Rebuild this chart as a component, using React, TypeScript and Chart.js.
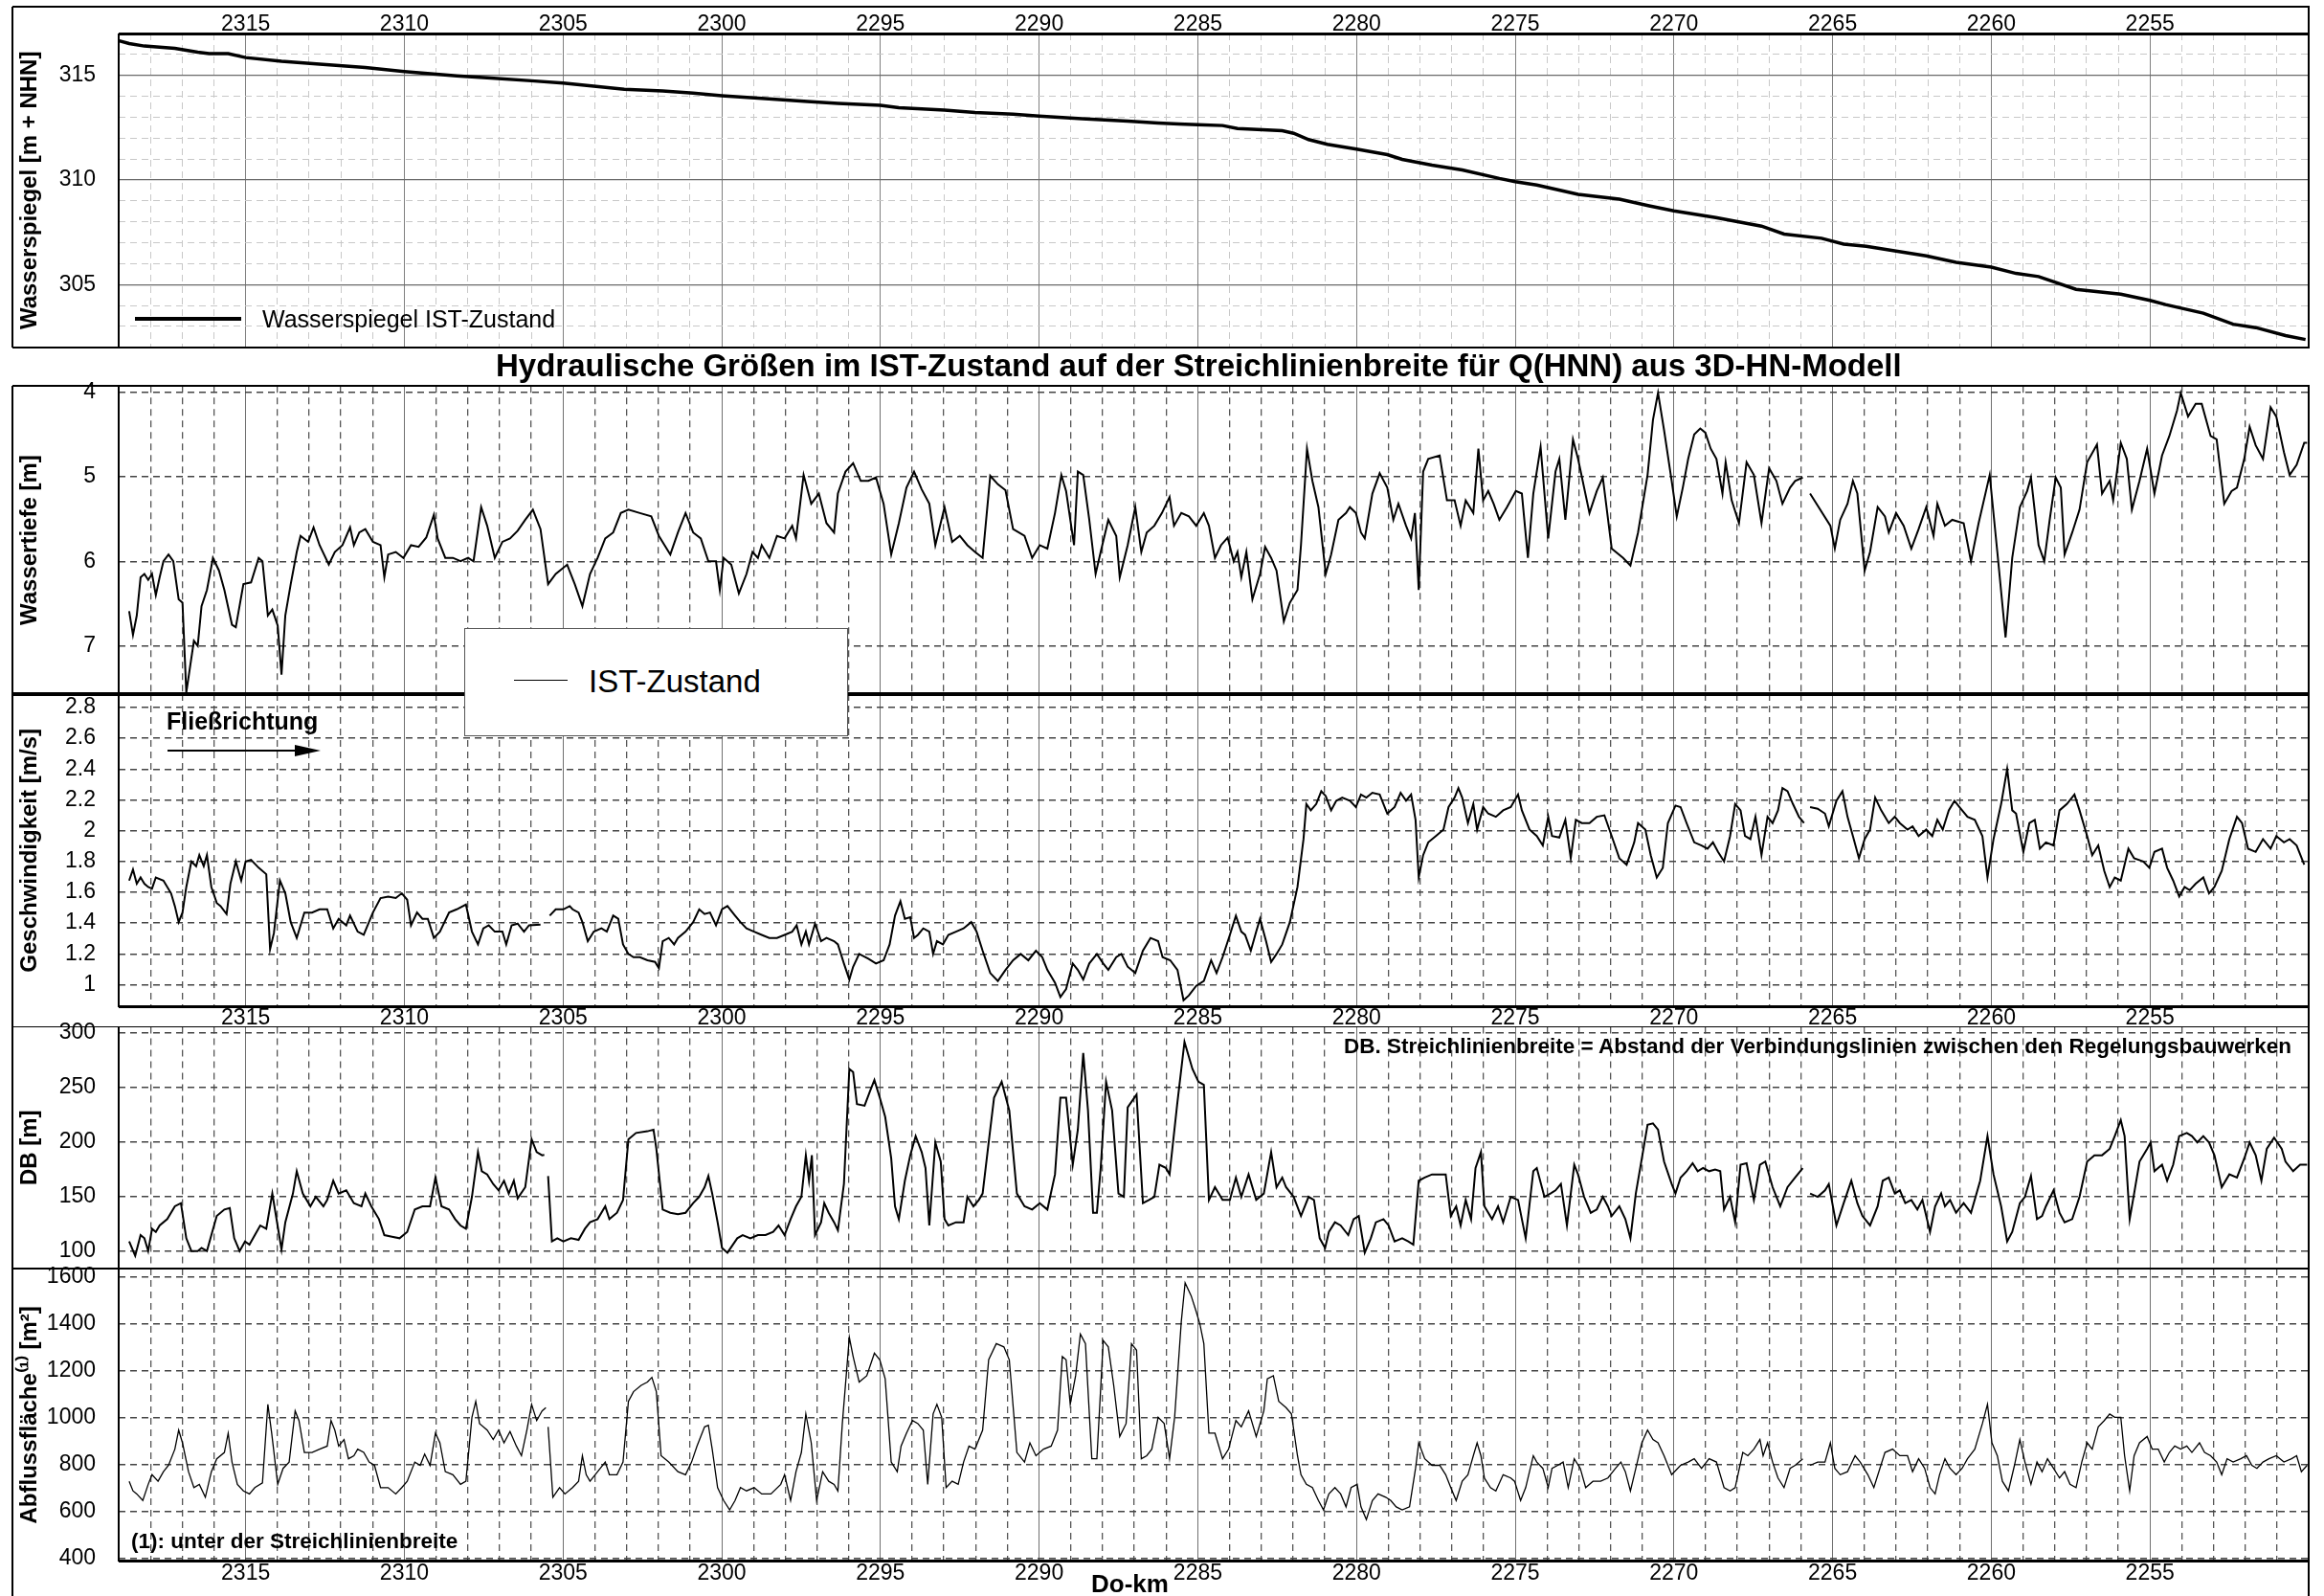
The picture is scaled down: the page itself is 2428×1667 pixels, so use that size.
import React, { useEffect, useRef } from 'react';
import { Chart, registerables } from 'chart.js';

Chart.register(...registerables);

const FONT = "'Liberation Sans', Arial, Helvetica, sans-serif";

// ---------------- data ----------------
const KM_MIN = 2250;
const KM_MAX = 2319;
const kmLabels = [2315, 2310, 2305, 2300, 2295, 2290, 2285, 2280, 2275, 2270, 2265, 2260, 2255];

const wspTicks = [305, 310, 315];
const tiefeTicks = [4, 5, 6, 7];
const geschwTicks = [1, 1.2, 1.4, 1.6, 1.8, 2, 2.2, 2.4, 2.6, 2.8];
const dbTicks = [100, 150, 200, 250, 300];
const flaecheTicks = [400, 600, 800, 1000, 1200, 1400, 1600];

type Pt = [number, number | null];

const wasserspiegel: Pt[] = [
  [2319.03, 316.67], [2318.67, 316.52], [2318.19, 316.4], [2317.23, 316.29], [2316.51, 316.11], [2316.15, 316.04],
  [2315.55, 316.04], [2315.0, 315.85], [2313.87, 315.67], [2312.67, 315.53], [2311.23, 315.37], [2310.0, 315.18],
  [2308.35, 314.97], [2307.39, 314.88], [2306.0, 314.74], [2305.0, 314.63], [2304.03, 314.48], [2303.07, 314.33],
  [2301.86, 314.25], [2300.9, 314.15], [2300.0, 314.03], [2298.74, 313.9], [2297.3, 313.75], [2296.34, 313.66],
  [2295.0, 313.57], [2294.42, 313.45], [2292.98, 313.34], [2292.02, 313.22], [2290.82, 313.14], [2290.0, 313.05],
  [2288.65, 312.93], [2287.21, 312.81], [2286.25, 312.72], [2285.6, 312.68], [2285.0, 312.64], [2284.22, 312.6],
  [2283.75, 312.46], [2282.34, 312.35], [2281.98, 312.23], [2281.51, 311.93], [2280.92, 311.7], [2280.0, 311.47],
  [2279.03, 311.21], [2278.56, 310.98], [2277.62, 310.71], [2276.67, 310.48], [2275.5, 310.07], [2275.0, 309.92],
  [2274.32, 309.76], [2273.02, 309.31], [2271.72, 309.08], [2270.78, 308.76], [2270.0, 308.52], [2268.68, 308.2],
  [2267.24, 307.79], [2266.53, 307.41], [2265.35, 307.21], [2264.65, 306.93], [2263.94, 306.83], [2263.0, 306.6],
  [2262.05, 306.37], [2261.11, 306.06], [2260.0, 305.83], [2259.22, 305.53], [2258.51, 305.38], [2257.33, 304.77],
  [2255.92, 304.54], [2255.0, 304.24], [2254.51, 304.04], [2253.32, 303.63], [2252.38, 303.1], [2251.67, 302.94],
  [2250.73, 302.56], [2250.1, 302.37],
];

const wassertiefe: Pt[] = [
  [2318.67, 6.59], [2318.55, 6.87], [2318.43, 6.64], [2318.31, 6.19], [2318.19, 6.15], [2318.07, 6.22], [2317.95, 6.15],
  [2317.83, 6.4], [2317.71, 6.19], [2317.59, 6.0], [2317.43, 5.92], [2317.28, 6.0], [2317.11, 6.45], [2316.99, 6.49],
  [2316.87, 7.55], [2316.63, 6.94], [2316.51, 7.0], [2316.39, 6.53], [2316.22, 6.34], [2316.03, 5.96], [2315.84, 6.11],
  [2315.67, 6.34], [2315.43, 6.75], [2315.31, 6.78], [2315.07, 6.27], [2314.83, 6.25], [2314.59, 5.96], [2314.47, 6.0],
  [2314.3, 6.64], [2314.16, 6.57], [2313.99, 6.76], [2313.87, 7.34], [2313.75, 6.64], [2313.58, 6.27], [2313.39, 5.89],
  [2313.27, 5.7], [2313.03, 5.77], [2312.86, 5.6], [2312.67, 5.81], [2312.38, 6.04], [2312.19, 5.89], [2311.95, 5.81],
  [2311.71, 5.6], [2311.59, 5.81], [2311.42, 5.66], [2311.23, 5.62], [2310.99, 5.77], [2310.75, 5.81], [2310.63, 6.19],
  [2310.51, 5.92], [2310.27, 5.89], [2310.03, 5.96], [2309.79, 5.81], [2309.55, 5.83], [2309.31, 5.72], [2309.07, 5.45],
  [2308.95, 5.73], [2308.71, 5.96], [2308.47, 5.96], [2308.23, 6.0], [2307.99, 5.96], [2307.82, 6.0], [2307.58, 5.36],
  [2307.39, 5.58], [2307.15, 5.96], [2306.91, 5.77], [2306.67, 5.73], [2306.43, 5.64], [2306.19, 5.51], [2305.95, 5.39],
  [2305.71, 5.62], [2305.47, 6.27], [2305.23, 6.15], [2304.87, 6.04], [2304.63, 6.27], [2304.39, 6.53], [2304.15, 6.15],
  [2303.91, 5.96], [2303.67, 5.73], [2303.42, 5.66], [2303.18, 5.43], [2302.94, 5.39], [2302.58, 5.43], [2302.22, 5.47],
  [2301.98, 5.7], [2301.62, 5.92], [2301.38, 5.66], [2301.14, 5.43], [2300.9, 5.66], [2300.66, 5.73], [2300.42, 6.0],
  [2300.18, 6.0], [2300.06, 6.34], [2299.94, 5.96], [2299.7, 6.04], [2299.46, 6.38], [2299.22, 6.15], [2299.03, 5.89],
  [2298.86, 5.96], [2298.74, 5.81], [2298.5, 5.96], [2298.26, 5.7], [2298.02, 5.73], [2297.78, 5.58], [2297.66, 5.73],
  [2297.42, 4.98], [2297.18, 5.32], [2296.94, 5.2], [2296.7, 5.55], [2296.46, 5.66], [2296.34, 5.2], [2296.1, 4.94],
  [2295.86, 4.84], [2295.62, 5.05], [2295.38, 5.05], [2295.14, 5.01], [2294.9, 5.32], [2294.66, 5.92], [2294.42, 5.55],
  [2294.18, 5.13], [2293.94, 4.94], [2293.7, 5.15], [2293.46, 5.32], [2293.27, 5.81], [2292.98, 5.36], [2292.74, 5.77],
  [2292.5, 5.7], [2292.26, 5.81], [2292.02, 5.89], [2291.78, 5.96], [2291.54, 4.99], [2291.3, 5.09], [2291.06, 5.16],
  [2290.82, 5.62], [2290.46, 5.7], [2290.22, 5.96], [2289.98, 5.81], [2289.74, 5.85], [2289.5, 5.43], [2289.3, 4.98],
  [2289.15, 5.17], [2288.9, 5.81], [2288.78, 4.94], [2288.61, 4.98], [2288.42, 5.51], [2288.22, 6.15], [2288.06, 5.89],
  [2287.82, 5.51], [2287.57, 5.7], [2287.46, 6.19], [2287.21, 5.81], [2286.97, 5.36], [2286.78, 5.89], [2286.61, 5.66],
  [2286.37, 5.58], [2286.13, 5.43], [2285.89, 5.24], [2285.75, 5.58], [2285.52, 5.43], [2285.28, 5.47], [2285.05, 5.58],
  [2284.81, 5.43], [2284.65, 5.58], [2284.46, 5.96], [2284.27, 5.81], [2284.06, 5.72], [2283.87, 6.0], [2283.75, 5.89],
  [2283.63, 6.19], [2283.47, 5.89], [2283.28, 6.45], [2283.04, 6.15], [2282.88, 5.83], [2282.69, 5.96], [2282.52, 6.11],
  [2282.29, 6.71], [2282.1, 6.49], [2281.86, 6.34], [2281.75, 5.81], [2281.56, 4.67], [2281.39, 5.05], [2281.2, 5.36],
  [2280.97, 6.15], [2280.8, 5.92], [2280.57, 5.51], [2280.33, 5.43], [2280.21, 5.36], [2280.02, 5.43], [2279.86, 5.66],
  [2279.74, 5.73], [2279.5, 5.2], [2279.27, 4.96], [2279.03, 5.13], [2278.84, 5.51], [2278.68, 5.32], [2278.44, 5.58],
  [2278.28, 5.73], [2278.16, 5.43], [2278.04, 6.34], [2277.9, 4.94], [2277.74, 4.79], [2277.38, 4.75], [2277.15, 5.28],
  [2276.91, 5.28], [2276.72, 5.58], [2276.56, 5.28], [2276.32, 5.43], [2276.16, 4.67], [2276.01, 5.28], [2275.85, 5.17],
  [2275.68, 5.32], [2275.5, 5.51], [2275.26, 5.36], [2274.98, 5.17], [2274.79, 5.2], [2274.6, 5.96], [2274.43, 5.2],
  [2274.2, 4.65], [2273.96, 5.73], [2273.73, 4.94], [2273.61, 4.79], [2273.42, 5.51], [2273.18, 4.56], [2273.02, 4.79],
  [2272.66, 5.43], [2272.43, 5.17], [2272.24, 5.01], [2271.96, 5.85], [2271.6, 5.96], [2271.37, 6.05], [2271.13, 5.66],
  [2270.83, 4.98], [2270.66, 4.33], [2270.5, 4.01], [2270.31, 4.45], [2270.07, 5.05], [2269.91, 5.47], [2269.72, 5.13],
  [2269.55, 4.79], [2269.36, 4.5], [2269.17, 4.43], [2269.01, 4.48], [2268.84, 4.67], [2268.66, 4.79], [2268.47, 5.2],
  [2268.37, 4.83], [2268.18, 5.28], [2267.95, 5.55], [2267.71, 4.83], [2267.48, 4.98], [2267.24, 5.55], [2267.0, 4.9],
  [2266.77, 5.05], [2266.58, 5.32], [2266.34, 5.13], [2266.18, 5.05], [2265.94, 5.01], [2265.8, null], [2265.71, 5.2],
  [2265.07, 5.58], [2264.93, 5.85], [2264.76, 5.51], [2264.53, 5.32], [2264.36, 5.05], [2264.22, 5.2], [2263.99, 6.11],
  [2263.82, 5.89], [2263.58, 5.36], [2263.35, 5.47], [2263.23, 5.66], [2263.0, 5.43], [2262.76, 5.58], [2262.52, 5.85],
  [2262.29, 5.62], [2262.05, 5.36], [2261.82, 5.7], [2261.7, 5.32], [2261.46, 5.58], [2261.23, 5.51], [2260.87, 5.55],
  [2260.64, 6.0], [2260.4, 5.55], [2260.05, 4.98], [2259.81, 5.89], [2259.55, 6.9], [2259.34, 5.96], [2259.1, 5.36],
  [2258.87, 5.17], [2258.75, 5.01], [2258.51, 5.81], [2258.33, 6.0], [2258.16, 5.51], [2257.97, 5.01], [2257.81, 5.13],
  [2257.69, 5.92], [2257.45, 5.66], [2257.22, 5.39], [2256.98, 4.83], [2256.67, 4.62], [2256.51, 5.2], [2256.27, 5.05],
  [2256.16, 5.28], [2255.92, 4.6], [2255.73, 4.79], [2255.57, 5.39], [2255.33, 5.05], [2255.09, 4.67], [2254.86, 5.2],
  [2254.62, 4.75], [2254.39, 4.52], [2254.15, 4.22], [2254.03, 4.01], [2253.8, 4.29], [2253.56, 4.14], [2253.37, 4.14],
  [2253.09, 4.52], [2252.9, 4.56], [2252.66, 5.32], [2252.43, 5.17], [2252.26, 5.13], [2252.03, 4.79], [2251.86, 4.41],
  [2251.67, 4.63], [2251.44, 4.79], [2251.2, 4.18], [2251.02, 4.29], [2250.78, 4.71], [2250.6, 4.98], [2250.38, 4.86],
  [2250.14, 4.6], [2250.05, 4.6],
];

const geschwindigkeit: Pt[] = [
  [2318.67, 1.676], [2318.55, 1.748], [2318.43, 1.655], [2318.31, 1.696], [2318.19, 1.655], [2318.07, 1.634],
  [2317.95, 1.624], [2317.83, 1.696], [2317.59, 1.676], [2317.35, 1.593], [2317.23, 1.51], [2317.11, 1.406],
  [2316.99, 1.468], [2316.87, 1.634], [2316.71, 1.8], [2316.56, 1.769], [2316.46, 1.841], [2316.32, 1.769],
  [2316.22, 1.841], [2316.08, 1.634], [2315.91, 1.53], [2315.79, 1.51], [2315.6, 1.458], [2315.48, 1.655],
  [2315.31, 1.8], [2315.14, 1.676], [2315.0, 1.8], [2314.83, 1.81], [2314.59, 1.759], [2314.35, 1.717],
  [2314.23, 1.23], [2314.11, 1.334], [2313.92, 1.676], [2313.75, 1.593], [2313.58, 1.406], [2313.39, 1.303],
  [2313.15, 1.468], [2312.91, 1.468], [2312.67, 1.489], [2312.43, 1.489], [2312.24, 1.365], [2312.07, 1.427],
  [2311.83, 1.385], [2311.71, 1.448], [2311.47, 1.344], [2311.28, 1.323], [2310.99, 1.468], [2310.75, 1.562],
  [2310.51, 1.572], [2310.27, 1.562], [2310.08, 1.593], [2309.91, 1.551], [2309.79, 1.385], [2309.6, 1.468],
  [2309.43, 1.427], [2309.26, 1.427], [2309.07, 1.303], [2308.88, 1.344], [2308.59, 1.468], [2308.35, 1.489],
  [2308.06, 1.52], [2307.87, 1.344], [2307.68, 1.261], [2307.51, 1.365], [2307.34, 1.385], [2307.15, 1.344],
  [2306.91, 1.344], [2306.79, 1.261], [2306.62, 1.385], [2306.43, 1.396], [2306.23, 1.344], [2306.07, 1.385],
  [2305.71, 1.39], [2305.55, null], [2305.42, 1.448], [2305.23, 1.489], [2304.99, 1.489], [2304.79, 1.51],
  [2304.7, 1.489], [2304.51, 1.468], [2304.39, 1.406], [2304.22, 1.282], [2304.03, 1.344], [2303.79, 1.365],
  [2303.62, 1.344], [2303.42, 1.448], [2303.26, 1.427], [2303.11, 1.261], [2302.94, 1.199], [2302.78, 1.178],
  [2302.58, 1.178], [2302.34, 1.158], [2302.1, 1.147], [2301.98, 1.106], [2301.86, 1.282], [2301.67, 1.303],
  [2301.5, 1.261], [2301.38, 1.303], [2301.14, 1.344], [2300.9, 1.406], [2300.71, 1.489], [2300.54, 1.458],
  [2300.37, 1.468], [2300.18, 1.385], [2299.99, 1.489], [2299.82, 1.51], [2299.58, 1.448], [2299.41, 1.406],
  [2299.22, 1.365], [2298.98, 1.344], [2298.74, 1.323], [2298.5, 1.303], [2298.26, 1.303], [2298.02, 1.323],
  [2297.78, 1.344], [2297.64, 1.385], [2297.49, 1.261], [2297.35, 1.344], [2297.25, 1.261], [2297.06, 1.396],
  [2296.87, 1.282], [2296.7, 1.303], [2296.46, 1.282], [2296.34, 1.261], [2296.15, 1.137], [2295.98, 1.033],
  [2295.86, 1.116], [2295.67, 1.199], [2295.38, 1.168], [2295.14, 1.137], [2294.9, 1.158], [2294.71, 1.261],
  [2294.54, 1.448], [2294.37, 1.541], [2294.23, 1.427], [2294.06, 1.437], [2293.94, 1.303], [2293.82, 1.323],
  [2293.65, 1.365], [2293.46, 1.344], [2293.34, 1.199], [2293.22, 1.282], [2293.03, 1.261], [2292.86, 1.323],
  [2292.62, 1.344], [2292.38, 1.365], [2292.14, 1.406], [2291.97, 1.344], [2291.78, 1.22], [2291.54, 1.075],
  [2291.3, 1.023], [2291.06, 1.095], [2290.82, 1.158], [2290.58, 1.199], [2290.34, 1.158], [2290.1, 1.22],
  [2289.9, 1.178], [2289.74, 1.095], [2289.5, 1.012], [2289.33, 0.919], [2289.15, 0.971], [2288.94, 1.137],
  [2288.78, 1.095], [2288.61, 1.033], [2288.42, 1.137], [2288.18, 1.199], [2287.98, 1.137], [2287.82, 1.095],
  [2287.57, 1.178], [2287.41, 1.199], [2287.21, 1.116], [2286.97, 1.075], [2286.73, 1.22], [2286.49, 1.303],
  [2286.25, 1.282], [2286.11, 1.178], [2285.87, 1.158], [2285.64, 1.095], [2285.45, 0.898], [2285.28, 0.93],
  [2285.05, 0.992], [2284.81, 1.023], [2284.58, 1.158], [2284.41, 1.075], [2284.22, 1.178], [2283.99, 1.323],
  [2283.8, 1.448], [2283.63, 1.344], [2283.51, 1.323], [2283.33, 1.22], [2283.16, 1.344], [2283.04, 1.427],
  [2282.85, 1.282], [2282.69, 1.147], [2282.52, 1.199], [2282.34, 1.261], [2282.1, 1.406], [2281.86, 1.634],
  [2281.67, 1.945], [2281.58, 2.173], [2281.44, 2.132], [2281.27, 2.173], [2281.11, 2.256], [2280.97, 2.225],
  [2280.8, 2.132], [2280.64, 2.194], [2280.45, 2.215], [2280.21, 2.194], [2280.02, 2.153], [2279.86, 2.235],
  [2279.69, 2.215], [2279.5, 2.246], [2279.27, 2.235], [2279.03, 2.111], [2278.8, 2.153], [2278.61, 2.246],
  [2278.44, 2.194], [2278.28, 2.235], [2278.14, 2.07], [2278.04, 1.696], [2277.9, 1.841], [2277.74, 1.924],
  [2277.5, 1.965], [2277.26, 2.007], [2277.1, 2.153], [2276.91, 2.215], [2276.79, 2.277], [2276.67, 2.215],
  [2276.49, 2.049], [2276.32, 2.173], [2276.2, 2.007], [2276.01, 2.153], [2275.85, 2.111], [2275.61, 2.09],
  [2275.38, 2.132], [2275.14, 2.153], [2274.91, 2.235], [2274.79, 2.132], [2274.55, 2.007], [2274.32, 1.965],
  [2274.13, 1.904], [2273.96, 2.09], [2273.84, 1.965], [2273.61, 1.955], [2273.42, 2.07], [2273.25, 1.821],
  [2273.09, 2.07], [2272.9, 2.049], [2272.66, 2.049], [2272.43, 2.09], [2272.19, 2.1], [2271.96, 1.965],
  [2271.72, 1.821], [2271.49, 1.779], [2271.25, 1.924], [2271.13, 2.049], [2270.9, 2.007], [2270.73, 1.841],
  [2270.54, 1.696], [2270.35, 1.758], [2270.19, 2.049], [2269.95, 2.163], [2269.79, 2.153], [2269.6, 2.049],
  [2269.36, 1.924], [2269.13, 1.904], [2268.94, 1.883], [2268.77, 1.924], [2268.61, 1.862], [2268.42, 1.8],
  [2268.23, 1.965], [2268.07, 2.173], [2267.9, 2.132], [2267.76, 1.965], [2267.59, 1.945], [2267.43, 2.09],
  [2267.24, 1.841], [2267.05, 2.09], [2266.89, 2.049], [2266.72, 2.132], [2266.58, 2.277], [2266.42, 2.256],
  [2266.25, 2.173], [2266.06, 2.09], [2265.9, 2.049], [2265.8, null], [2265.71, 2.153], [2265.47, 2.142],
  [2265.24, 2.111], [2265.12, 2.028], [2264.88, 2.194], [2264.69, 2.256], [2264.53, 2.09], [2264.36, 1.965],
  [2264.17, 1.821], [2263.99, 1.945], [2263.82, 2.007], [2263.66, 2.215], [2263.47, 2.132], [2263.23, 2.049],
  [2263.04, 2.09], [2262.88, 2.049], [2262.64, 2.007], [2262.48, 2.028], [2262.29, 1.965], [2262.05, 2.007],
  [2261.86, 1.965], [2261.7, 2.07], [2261.53, 2.007], [2261.34, 2.132], [2261.16, 2.194], [2261.0, 2.153],
  [2260.75, 2.09], [2260.52, 2.07], [2260.28, 1.965], [2260.12, 1.696], [2259.93, 1.945], [2259.69, 2.173],
  [2259.5, 2.401], [2259.34, 2.132], [2259.22, 2.111], [2258.99, 1.862], [2258.8, 2.049], [2258.63, 2.07],
  [2258.47, 1.883], [2258.28, 1.924], [2258.04, 1.904], [2257.85, 2.132], [2257.62, 2.173], [2257.38, 2.235],
  [2257.22, 2.132], [2256.98, 1.965], [2256.82, 1.841], [2256.63, 1.904], [2256.44, 1.738], [2256.27, 1.634],
  [2256.11, 1.696], [2255.92, 1.676], [2255.68, 1.883], [2255.5, 1.821], [2255.21, 1.8], [2255.02, 1.759],
  [2254.86, 1.862], [2254.62, 1.883], [2254.46, 1.759], [2254.27, 1.676], [2254.08, 1.572], [2253.91, 1.634],
  [2253.75, 1.613], [2253.56, 1.655], [2253.32, 1.696], [2253.14, 1.593], [2252.97, 1.634], [2252.74, 1.738],
  [2252.5, 1.945], [2252.26, 2.09], [2252.1, 2.049], [2251.91, 1.883], [2251.67, 1.862], [2251.44, 1.945],
  [2251.2, 1.883], [2251.02, 1.965], [2250.78, 1.924], [2250.6, 1.945], [2250.38, 1.904], [2250.14, 1.779],
];

const streichlinienbreite: Pt[] = [
  [2318.67, 108.8], [2318.48, 95.6], [2318.31, 114.6], [2318.19, 111.7], [2318.07, 100], [2317.95, 120.4],
  [2317.83, 117.5], [2317.71, 123.4], [2317.47, 129.2], [2317.23, 140.9], [2317.04, 143.8], [2316.87, 111.7],
  [2316.71, 100], [2316.51, 100], [2316.39, 102.9], [2316.22, 100], [2316.08, 114.6], [2315.91, 132.1],
  [2315.67, 138], [2315.5, 139.4], [2315.36, 111.7], [2315.19, 100], [2315.02, 108.8], [2314.88, 105.8],
  [2314.71, 114.6], [2314.54, 123.4], [2314.35, 120.4], [2314.16, 152.6], [2314.06, 135], [2313.87, 101.5],
  [2313.75, 126.3], [2313.51, 152.6], [2313.39, 173], [2313.2, 152.6], [2312.96, 140.9], [2312.79, 149.6],
  [2312.55, 140.9], [2312.43, 146.7], [2312.24, 164.3], [2312.07, 152.6], [2311.83, 155.5], [2311.59, 143.8],
  [2311.35, 140.9], [2311.23, 152.6], [2311.04, 140.9], [2310.8, 129.2], [2310.63, 114.6], [2310.39, 113.1],
  [2310.15, 111.7], [2309.91, 117.5], [2309.67, 138], [2309.43, 140.9], [2309.19, 140.9], [2309.02, 167.2],
  [2308.83, 140.9], [2308.59, 138], [2308.4, 129.2], [2308.23, 123.4], [2308.06, 120.4], [2307.87, 149.6],
  [2307.68, 190.5], [2307.56, 173], [2307.39, 170.1], [2307.2, 161.3], [2307.03, 155.5], [2306.86, 164.3],
  [2306.71, 152.6], [2306.55, 164.3], [2306.43, 148.2], [2306.19, 158.4], [2305.99, 202.2], [2305.83, 190.5],
  [2305.66, 187.6], [2305.59, 188], [2305.55, null], [2305.47, 168.6], [2305.35, 108.8], [2305.18, 111.7],
  [2304.99, 108.8], [2304.75, 111.7], [2304.51, 110.2], [2304.31, 120.4], [2304.15, 126.3], [2303.91, 129.2],
  [2303.67, 140.9], [2303.54, 129.2], [2303.3, 135], [2303.11, 146.7], [2302.94, 202.2], [2302.7, 208],
  [2302.34, 209.5], [2302.15, 211], [2302.06, 193.5], [2301.86, 138], [2301.62, 135], [2301.38, 133.6],
  [2301.14, 135], [2300.9, 143.8], [2300.71, 149.6], [2300.54, 158.4], [2300.42, 168.6], [2300.3, 152.6],
  [2300.13, 126.3], [2299.99, 102.9], [2299.82, 98.5], [2299.65, 105.8], [2299.51, 111.7], [2299.34, 114.6],
  [2299.1, 111.7], [2298.86, 114.6], [2298.62, 114.6], [2298.38, 117.5], [2298.21, 123.4], [2298.02, 114.6],
  [2297.83, 129.2], [2297.66, 140.9], [2297.49, 149.6], [2297.35, 187.6], [2297.25, 164.3], [2297.16, 187.6],
  [2297.06, 114.6], [2296.87, 126.3], [2296.77, 143.8], [2296.63, 135], [2296.46, 126.3], [2296.34, 119],
  [2296.15, 161.3], [2295.98, 266.5], [2295.86, 263.6], [2295.74, 234.3], [2295.5, 232.9], [2295.33, 246],
  [2295.19, 256.3], [2295.02, 240.2], [2294.85, 222.7], [2294.66, 184.7], [2294.54, 140.9], [2294.42, 129.2],
  [2294.23, 164.3], [2294.06, 187.6], [2293.89, 205.1], [2293.7, 190.5], [2293.58, 175.9], [2293.46, 123.4],
  [2293.27, 199.3], [2293.1, 181.8], [2292.98, 129.2], [2292.86, 123.4], [2292.62, 126.3], [2292.38, 126.3],
  [2292.26, 149.6], [2292.07, 140.9], [2291.9, 146.7], [2291.78, 152.6], [2291.59, 199.3], [2291.42, 240.2],
  [2291.18, 254.8], [2290.94, 228.5], [2290.7, 152.6], [2290.46, 140.9], [2290.22, 138], [2289.98, 143.8],
  [2289.74, 138], [2289.5, 170.1], [2289.33, 240.2], [2289.15, 240.2], [2288.94, 178.9], [2288.78, 210.9],
  [2288.61, 281.1], [2288.46, 228.5], [2288.3, 135], [2288.18, 135], [2288.06, 175.9], [2287.89, 254.8],
  [2287.7, 228.5], [2287.5, 152.6], [2287.33, 149.6], [2287.21, 231.4], [2286.93, 243.1], [2286.73, 143.8],
  [2286.54, 146.7], [2286.37, 149.6], [2286.21, 178.9], [2286.01, 176], [2285.89, 170.1], [2285.65, 234.3],
  [2285.42, 291.3], [2285.17, 266.5], [2284.98, 254.8], [2284.81, 251.9], [2284.65, 146.7], [2284.46, 158.4],
  [2284.22, 146.7], [2283.99, 146.7], [2283.8, 167.2], [2283.63, 149.6], [2283.4, 170.1], [2283.16, 146.7],
  [2282.92, 152.6], [2282.69, 190.5], [2282.52, 158.4], [2282.34, 167.2], [2282.22, 158.4], [2281.98, 149.6],
  [2281.75, 132.1], [2281.51, 149.6], [2281.34, 146.7], [2281.16, 111.7], [2280.99, 102.9], [2280.87, 117.5],
  [2280.68, 126.3], [2280.5, 123.4], [2280.26, 114.6], [2280.09, 129.2], [2279.93, 132.1], [2279.74, 98.5],
  [2279.55, 111.7], [2279.39, 126.3], [2279.15, 129.2], [2278.99, 123.4], [2278.8, 108.8], [2278.56, 111.7],
  [2278.37, 108.8], [2278.21, 105.8], [2278.04, 164.3], [2277.85, 167.2], [2277.62, 170.1], [2277.38, 170.1],
  [2277.19, 170.1], [2277.03, 132.1], [2276.86, 140.9], [2276.72, 123.4], [2276.56, 146.7], [2276.39, 129.2],
  [2276.25, 175.9], [2276.08, 190.5], [2275.97, 140.9], [2275.73, 129.2], [2275.54, 140.9], [2275.38, 126.3],
  [2275.14, 149.6], [2274.91, 146.7], [2274.67, 111.7], [2274.43, 173], [2274.32, 175.9], [2274.08, 149.6],
  [2273.89, 152.6], [2273.73, 155.5], [2273.56, 161.3], [2273.37, 123.4], [2273.14, 178.9], [2273.02, 170.1],
  [2272.83, 149.6], [2272.62, 135], [2272.43, 138], [2272.24, 149.6], [2272.08, 140.9], [2271.96, 132.1],
  [2271.72, 140.9], [2271.53, 129.2], [2271.37, 111.7], [2271.2, 152.6], [2271.01, 184.7], [2270.83, 215.4],
  [2270.66, 216.8], [2270.5, 211], [2270.31, 181.8], [2270.07, 161.3], [2269.95, 152.6], [2269.79, 167.2],
  [2269.6, 173], [2269.41, 180.3], [2269.25, 173], [2269.08, 175.9], [2268.89, 173], [2268.7, 174.5],
  [2268.54, 173], [2268.42, 138], [2268.23, 149.6], [2268.07, 126.3], [2267.9, 178.9], [2267.71, 180.3],
  [2267.48, 146.7], [2267.29, 178.9], [2267.12, 181.8], [2266.89, 158.4], [2266.65, 140.9], [2266.42, 158.4],
  [2266.18, 167.2], [2265.94, 175.9], [2265.8, null], [2265.71, 152.6], [2265.47, 149.6], [2265.24, 155.5],
  [2265.12, 161.3], [2264.88, 123.4], [2264.65, 143.8], [2264.41, 164.3], [2264.22, 143.8], [2264.06, 132.1],
  [2263.82, 123.4], [2263.58, 140.9], [2263.42, 164.3], [2263.23, 167.2], [2263.04, 152.6], [2262.88, 155.5],
  [2262.71, 143.8], [2262.52, 146.7], [2262.33, 138], [2262.17, 146.7], [2261.93, 117.5], [2261.77, 140.9],
  [2261.58, 152.6], [2261.46, 140.9], [2261.3, 146.7], [2261.11, 135], [2260.87, 143.8], [2260.64, 135],
  [2260.35, 164.3], [2260.12, 205.1], [2259.93, 170.1], [2259.69, 140.9], [2259.5, 108.8], [2259.34, 117.5],
  [2259.1, 143.8], [2258.94, 149.6], [2258.75, 168.6], [2258.56, 129.2], [2258.4, 132.1], [2258.28, 140.9],
  [2258.04, 155.5], [2257.85, 135], [2257.69, 126.3], [2257.45, 129.2], [2257.22, 149.6], [2256.98, 181.8],
  [2256.75, 187.6], [2256.51, 187.6], [2256.27, 193.5], [2256.11, 205.1], [2255.92, 219.7], [2255.8, 205.1],
  [2255.64, 129.2], [2255.5, 152.6], [2255.33, 181.8], [2255.09, 193.5], [2254.98, 199.3], [2254.86, 173],
  [2254.62, 178.9], [2254.46, 164.3], [2254.27, 178.9], [2254.08, 205.1], [2253.84, 208], [2253.68, 205.1],
  [2253.51, 199.3], [2253.32, 205.1], [2253.14, 199.3], [2252.97, 187.6], [2252.74, 158.4], [2252.5, 170.1],
  [2252.26, 167.2], [2252.03, 184.7], [2251.86, 199.3], [2251.67, 187.6], [2251.49, 164.3], [2251.32, 193.5],
  [2251.09, 203.7], [2250.85, 193.5], [2250.73, 181.8], [2250.49, 173], [2250.27, 178.9], [2250.05, 178.9],
];

const abflussflaeche: Pt[] = [
  [2318.67, 727], [2318.55, 686], [2318.43, 673], [2318.24, 645], [2318.07, 714], [2317.95, 755], [2317.76, 727],
  [2317.59, 768], [2317.43, 795], [2317.23, 864], [2317.11, 945], [2316.99, 891], [2316.8, 768], [2316.63, 700],
  [2316.46, 714], [2316.27, 659], [2316.08, 768], [2315.91, 823], [2315.67, 850], [2315.55, 932], [2315.43, 809],
  [2315.26, 714], [2315.07, 686], [2314.88, 673], [2314.71, 700], [2314.47, 720], [2314.3, 1055], [2314.18, 932],
  [2313.99, 714], [2313.82, 782], [2313.63, 809], [2313.44, 1027], [2313.32, 986], [2313.15, 850], [2312.91, 850],
  [2312.67, 864], [2312.43, 877], [2312.31, 986], [2312.19, 945], [2312.07, 877], [2311.9, 905], [2311.76, 823],
  [2311.59, 836], [2311.47, 864], [2311.28, 850], [2311.11, 809], [2310.94, 795], [2310.75, 700], [2310.51, 700],
  [2310.27, 673], [2310.08, 700], [2309.91, 727], [2309.67, 809], [2309.5, 795], [2309.36, 843], [2309.19, 795],
  [2309.02, 932], [2308.88, 891], [2308.71, 768], [2308.47, 755], [2308.23, 714], [2308.06, 727], [2307.87, 1000],
  [2307.75, 1068], [2307.63, 973], [2307.39, 945], [2307.2, 905], [2307.03, 945], [2306.86, 891], [2306.67, 939],
  [2306.47, 877], [2306.31, 836], [2306.14, 945], [2305.99, 1055], [2305.83, 986], [2305.66, 1027], [2305.54, 1041],
  [2305.5, null], [2305.47, 959], [2305.32, 659], [2305.11, 700], [2304.94, 673], [2304.7, 700], [2304.51, 727],
  [2304.39, 836], [2304.27, 755], [2304.15, 727], [2303.91, 768], [2303.67, 809], [2303.54, 755], [2303.3, 755],
  [2303.11, 809], [2302.94, 1068], [2302.78, 1109], [2302.54, 1136], [2302.34, 1150], [2302.2, 1170], [2302.06, 1109],
  [2301.91, 836], [2301.67, 809], [2301.38, 768], [2301.14, 755], [2300.95, 809], [2300.78, 877], [2300.54, 959],
  [2300.42, 966], [2300.3, 864], [2300.13, 700], [2299.94, 645], [2299.75, 605], [2299.58, 645], [2299.41, 700],
  [2299.22, 686], [2298.98, 700], [2298.74, 673], [2298.45, 673], [2298.14, 714], [2298.02, 755], [2297.83, 645],
  [2297.66, 768], [2297.49, 850], [2297.35, 1014], [2297.18, 891], [2297.01, 645], [2296.82, 768], [2296.63, 727],
  [2296.46, 714], [2296.34, 686], [2296.2, 973], [2295.98, 1341], [2295.86, 1259], [2295.67, 1150], [2295.43, 1177],
  [2295.19, 1273], [2295.02, 1245], [2294.85, 1164], [2294.66, 809], [2294.47, 768], [2294.35, 877], [2294.18, 932],
  [2293.99, 986], [2293.82, 973], [2293.65, 945], [2293.51, 714], [2293.34, 1014], [2293.22, 1055], [2293.07, 1000],
  [2292.93, 700], [2292.74, 727], [2292.55, 714], [2292.38, 809], [2292.21, 877], [2292.02, 864], [2291.78, 945],
  [2291.59, 1245], [2291.35, 1314], [2291.11, 1300], [2290.94, 1245], [2290.7, 850], [2290.46, 809], [2290.29, 891],
  [2290.1, 836], [2289.86, 864], [2289.62, 877], [2289.42, 945], [2289.27, 1259], [2289.15, 1245], [2289.02, 1055],
  [2288.85, 1177], [2288.7, 1355], [2288.54, 1314], [2288.34, 823], [2288.18, 823], [2287.98, 1327], [2287.82, 1300],
  [2287.65, 1136], [2287.46, 918], [2287.26, 973], [2287.09, 1314], [2286.93, 1286], [2286.78, 823], [2286.61, 836],
  [2286.45, 864], [2286.25, 1000], [2286.06, 973], [2285.89, 823], [2285.73, 1000], [2285.52, 1409], [2285.4, 1573],
  [2285.21, 1518], [2285.05, 1450], [2284.93, 1395], [2284.81, 1314], [2284.65, 932], [2284.46, 932], [2284.22, 823],
  [2284.03, 864], [2283.8, 986], [2283.63, 959], [2283.4, 1027], [2283.16, 918], [2282.92, 1027], [2282.81, 1164],
  [2282.62, 1177], [2282.45, 1068], [2282.22, 1041], [2282.05, 1014], [2281.86, 836], [2281.75, 755], [2281.58, 714],
  [2281.39, 700], [2281.2, 645], [2281.04, 605], [2280.87, 673], [2280.68, 700], [2280.5, 673], [2280.33, 618],
  [2280.17, 700], [2279.98, 714], [2279.86, 618], [2279.69, 564], [2279.5, 645], [2279.32, 673], [2279.08, 659],
  [2278.92, 645], [2278.75, 618], [2278.56, 605], [2278.33, 618], [2278.14, 782], [2278.04, 891], [2277.85, 823],
  [2277.62, 795], [2277.38, 795], [2277.19, 755], [2277.03, 700], [2276.86, 645], [2276.67, 727], [2276.49, 755],
  [2276.32, 836], [2276.2, 891], [2276.08, 836], [2275.97, 741], [2275.78, 700], [2275.61, 686], [2275.38, 755],
  [2275.14, 741], [2275.02, 727], [2274.83, 645], [2274.67, 700], [2274.43, 836], [2274.32, 809], [2274.13, 782],
  [2273.96, 700], [2273.84, 782], [2273.66, 795], [2273.49, 809], [2273.33, 700], [2273.14, 823], [2272.95, 782],
  [2272.78, 700], [2272.55, 727], [2272.31, 727], [2272.08, 741], [2271.84, 782], [2271.67, 809], [2271.53, 768],
  [2271.37, 686], [2271.2, 782], [2271.01, 891], [2270.83, 945], [2270.66, 905], [2270.5, 891], [2270.31, 836],
  [2270.07, 755], [2269.79, 795], [2269.55, 809], [2269.36, 823], [2269.13, 782], [2268.89, 823], [2268.66, 809],
  [2268.42, 700], [2268.23, 686], [2268.07, 700], [2267.83, 850], [2267.67, 836], [2267.48, 864], [2267.29, 905],
  [2267.19, 836], [2267.05, 891], [2266.89, 809], [2266.72, 741], [2266.53, 700], [2266.34, 782], [2266.18, 795],
  [2265.94, 823], [2265.8, null], [2265.71, 795], [2265.47, 809], [2265.24, 809], [2265.07, 891], [2264.93, 782],
  [2264.76, 755], [2264.53, 768], [2264.29, 836], [2264.13, 809], [2263.89, 755], [2263.7, 700], [2263.51, 782],
  [2263.35, 850], [2263.11, 864], [2262.88, 836], [2262.64, 836], [2262.48, 768], [2262.29, 823], [2262.1, 782],
  [2261.93, 700], [2261.77, 673], [2261.63, 755], [2261.46, 823], [2261.3, 782], [2261.11, 755], [2260.92, 782],
  [2260.75, 823], [2260.52, 864], [2260.28, 973], [2260.12, 1055], [2259.98, 891], [2259.81, 836], [2259.65, 727],
  [2259.46, 686], [2259.27, 795], [2259.1, 905], [2258.94, 809], [2258.75, 714], [2258.56, 809], [2258.4, 768],
  [2258.23, 823], [2258.04, 782], [2257.85, 741], [2257.69, 768], [2257.52, 714], [2257.33, 700], [2257.15, 809],
  [2256.98, 891], [2256.82, 864], [2256.63, 959], [2256.44, 986], [2256.27, 1014], [2256.11, 1000], [2255.92, 1000],
  [2255.8, 836], [2255.64, 686], [2255.5, 836], [2255.33, 891], [2255.09, 918], [2254.93, 864], [2254.74, 864],
  [2254.55, 809], [2254.39, 850], [2254.22, 877], [2254.03, 864], [2253.84, 877], [2253.68, 850], [2253.44, 891],
  [2253.28, 850], [2253.09, 836], [2252.9, 809], [2252.74, 755], [2252.57, 823], [2252.38, 809], [2252.14, 823],
  [2251.96, 836], [2251.79, 795], [2251.63, 782], [2251.44, 809], [2251.25, 823], [2251.02, 836], [2250.78, 809],
  [2250.54, 823], [2250.38, 836], [2250.23, 768], [2250.05, 795],
];

// ---------------- layout / style ----------------
const W = 2428;
const H = 1667;
const PLOT_L = 124;
const PLOT_R = 2412;
const BOX_L = 13;

interface PanelSpec {
  key: string;
  canvasTop: number;
  canvasHeight: number;
  padTop: number;
  padBottom: number;
  xPos: 'top' | 'bottom';
  xHeight: number;
  showX: boolean;
  xPad: number;
  yMin: number;
  yMax: number;
  reverse: boolean;
  yTicks: number[];
  yMinor?: number[];
  yTitle: string;
  data: Pt[];
  lineWidth: number;
  topStyle: boolean;
}

const kmMinor: number[] = [];
for (let k = KM_MIN + 1; k < KM_MAX; k++) if (k % 5 !== 0) kmMinor.push(k);
const wspMinor: number[] = [];
for (let v = 303; v <= 316; v++) if (v % 5 !== 0) wspMinor.push(v);

function fixTicks(values: number[]) {
  return (s: any) => {
    s.ticks = values.map((v) => ({ value: v }));
  };
}

function buildConfig(p: PanelSpec): any {
  const scales: any = {
    x: {
      type: 'linear',
      min: KM_MIN,
      max: KM_MAX,
      reverse: true,
      position: p.xPos,
      afterBuildTicks: fixTicks(kmLabels),
      afterFit: (s: any) => {
        s.height = p.xHeight;
        s.paddingLeft = 0;
        s.paddingRight = 0;
      },
      ticks: {
        display: p.showX,
        autoSkip: false,
        maxRotation: 0,
        minRotation: 0,
        padding: p.xPad,
        color: '#000',
        font: { family: FONT, size: 23, lineHeight: 1 },
        callback: (v: any) => String(v),
      },
      grid: { color: p.topStyle ? '#808080' : '#707070', lineWidth: 1, drawTicks: false },
      border: { display: false },
    },
    xMinor: {
      type: 'linear',
      min: KM_MIN,
      max: KM_MAX,
      reverse: true,
      position: 'bottom',
      afterBuildTicks: fixTicks(kmMinor),
      afterFit: (s: any) => {
        s.height = 0;
        s.paddingLeft = 0;
        s.paddingRight = 0;
      },
      ticks: { display: false },
      grid: {
        color: p.topStyle ? '#c8c8c8' : '#555555',
        lineWidth: p.topStyle ? 1 : 1.3,
        drawTicks: false,
        borderDash: [7, 5],
      },
      border: { display: false, dash: [7, 5] },
    },
    y: {
      type: 'linear',
      min: p.yMin,
      max: p.yMax,
      reverse: p.reverse,
      position: 'left',
      afterBuildTicks: fixTicks(p.yTicks),
      afterFit: (s: any) => {
        s.width = PLOT_L;
        s.paddingTop = 0;
        s.paddingBottom = 0;
      },
      ticks: {
        autoSkip: false,
        padding: 24,
        color: '#000',
        font: { family: FONT, size: 23 },
        callback: (v: any) => String(Math.round(v * 10) / 10),
      },
      grid: p.topStyle
        ? { color: '#6a6a6a', lineWidth: 1.2, drawTicks: false }
        : { color: '#444444', lineWidth: 1.4, drawTicks: false, borderDash: [7, 5] },
      border: p.topStyle ? { display: false } : { display: false, dash: [7, 5] },
      title: {
        display: true,
        text: p.yTitle,
        color: '#000',
        font: { family: FONT, size: 24, weight: 'bold' },
        padding: { top: 16.5, bottom: 0 },
      },
    },
  };
  if (p.yMinor) {
    scales.yMinor = {
      type: 'linear',
      min: p.yMin,
      max: p.yMax,
      reverse: p.reverse,
      position: 'left',
      afterBuildTicks: fixTicks(p.yMinor),
      afterFit: (s: any) => {
        s.width = 0;
        s.paddingTop = 0;
        s.paddingBottom = 0;
      },
      ticks: { display: false },
      grid: { color: '#c8c8c8', lineWidth: 1, drawTicks: false, borderDash: [7, 5] },
      border: { display: false, dash: [7, 5] },
    };
  }
  return {
    type: 'line',
    data: {
      datasets: [
        {
          data: p.data,
          borderColor: '#000',
          borderWidth: p.lineWidth,
          pointRadius: 0,
          tension: 0,
          spanGaps: false,
          xAxisID: 'x',
          yAxisID: 'y',
        },
      ],
    },
    options: {
      animation: false,
      responsive: false,
      maintainAspectRatio: false,
      devicePixelRatio: 1,
      events: [],
      layout: { padding: { top: p.padTop, bottom: p.padBottom, left: 0, right: W - PLOT_R } },
      plugins: { legend: { display: false }, tooltip: { enabled: false }, title: { display: false } },
      scales,
    },
  };
}

const panels: PanelSpec[] = [
  {
    key: 'wsp', canvasTop: 0, canvasHeight: 372, padTop: 0, padBottom: 372 - 362.7,
    xPos: 'top', xHeight: 35, showX: true, xPad: -2,
    yMin: 302, yMax: 317, reverse: false, yTicks: wspTicks, yMinor: wspMinor,
    yTitle: 'Wasserspiegel [m + NHN]', data: wasserspiegel, lineWidth: 3.5, topStyle: true,
  },
  {
    key: 'tiefe', canvasTop: 380, canvasHeight: 360, padTop: 403.3 - 380, padBottom: 740 - 725,
    xPos: 'bottom', xHeight: 0, showX: false, xPad: 0,
    yMin: 3.93, yMax: 7.57, reverse: true, yTicks: tiefeTicks,
    yTitle: 'Wassertiefe [m]', data: wassertiefe, lineWidth: 2, topStyle: false,
  },
  {
    key: 'v', canvasTop: 705, canvasHeight: 380, padTop: 725 - 705, padBottom: 1085 - 1051.7 - 24,
    xPos: 'bottom', xHeight: 24, showX: true, xPad: 0,
    yMin: 0.855, yMax: 2.887, reverse: false, yTicks: geschwTicks,
    yTitle: 'Geschwindigkeit [m/s]', data: geschwindigkeit, lineWidth: 2, topStyle: false,
  },
  {
    key: 'db', canvasTop: 1050, canvasHeight: 290, padTop: 1072.5 - 1050, padBottom: 1340 - 1325,
    xPos: 'bottom', xHeight: 0, showX: false, xPad: 0,
    yMin: 84, yMax: 305, reverse: false, yTicks: dbTicks,
    yTitle: 'DB [m]', data: streichlinienbreite, lineWidth: 2, topStyle: false,
  },
  {
    key: 'a', canvasTop: 1305, canvasHeight: 362, padTop: 1325 - 1305, padBottom: 0,
    xPos: 'bottom', xHeight: 1667 - 1630.7, showX: true, xPad: 1.6,
    yMin: 386, yMax: 1634, reverse: false, yTicks: flaecheTicks,
    yTitle: 'Abflussfläche⁽¹⁾ [m²]', data: abflussflaeche, lineWidth: 1.3, topStyle: false,
  },
];

function PanelCanvas({ spec }: { spec: PanelSpec }) {
  const ref = useRef<HTMLCanvasElement | null>(null);
  useEffect(() => {
    if (!ref.current) return;
    const chart = new Chart(ref.current, buildConfig(spec));
    return () => chart.destroy();
  }, [spec]);
  return (
    <canvas
      ref={ref}
      width={W}
      height={spec.canvasHeight}
      style={{ position: 'absolute', left: 0, top: spec.canvasTop, width: W, height: spec.canvasHeight }}
    />
  );
}

type Seg = { x1: number; x2: number; y1: number; y2: number; w: number };
const frame: Seg[] = [
  // upper box
  { x1: BOX_L, x2: PLOT_R + 1, y1: 7, y2: 7, w: 1.5 },
  { x1: BOX_L, x2: BOX_L, y1: 7, y2: 363, w: 1.5 },
  { x1: PLOT_R, x2: PLOT_R, y1: 7, y2: 363, w: 2 },
  { x1: PLOT_L, x2: PLOT_R + 1, y1: 35, y2: 35, w: 3 },
  { x1: PLOT_L, x2: PLOT_L, y1: 35, y2: 363, w: 2 },
  { x1: BOX_L, x2: PLOT_R + 1, y1: 362.7, y2: 362.7, w: 2 },
  // lower box
  { x1: BOX_L, x2: PLOT_R + 1, y1: 403.3, y2: 403.3, w: 2 },
  { x1: BOX_L, x2: BOX_L, y1: 403, y2: H, w: 1.5 },
  { x1: PLOT_R, x2: PLOT_R, y1: 403, y2: H, w: 2 },
  { x1: PLOT_L, x2: PLOT_L, y1: 403, y2: 1052, w: 2 },
  { x1: PLOT_L, x2: PLOT_L, y1: 1072, y2: 1631, w: 2 },
  { x1: BOX_L, x2: PLOT_R + 1, y1: 725, y2: 725, w: 4 },
  { x1: PLOT_L, x2: PLOT_R + 1, y1: 1051.7, y2: 1051.7, w: 2.5 },
  { x1: BOX_L, x2: PLOT_R + 1, y1: 1072.5, y2: 1072.5, w: 1.5 },
  { x1: BOX_L, x2: PLOT_R + 1, y1: 1325, y2: 1325, w: 2 },
  { x1: PLOT_L, x2: PLOT_R + 1, y1: 1630.7, y2: 1630.7, w: 2.5 },
];

function segStyle(s: Seg): React.CSSProperties {
  if (s.y1 === s.y2) {
    return { position: 'absolute', left: s.x1, top: s.y1 - s.w / 2, width: s.x2 - s.x1, height: s.w, background: '#000' };
  }
  return { position: 'absolute', left: s.x1 - s.w / 2, top: s.y1, width: s.w, height: s.y2 - s.y1, background: '#000' };
}

function txt(size: number, bold: boolean, extra: React.CSSProperties): React.CSSProperties {
  return {
    position: 'absolute',
    fontFamily: FONT,
    fontSize: size,
    fontWeight: bold ? 'bold' : 'normal',
    lineHeight: `${size}px`,
    whiteSpace: 'nowrap',
    color: '#000',
    ...extra,
  };
}

export default function App() {
  useEffect(() => {
    document.body.style.margin = '0';
  }, []);
  return (
    <div style={{ position: 'absolute', left: 0, top: 0, width: W, height: H, background: '#fff', overflow: 'hidden' }}>
      {panels.map((p) => (
        <PanelCanvas key={p.key} spec={p} />
      ))}
      <div style={{ position: 'absolute', left: 0, top: 0, width: W, height: H, zIndex: 1 }}>
        {frame.map((s, i) => (
          <div key={i} style={segStyle(s)} />
        ))}
        {/* top legend */}
        <div style={{ position: 'absolute', left: 141, top: 330.7, width: 111, height: 4, background: '#000' }} />
        <div style={txt(25, false, { left: 274, top: 332.7 - 12.2 })}>Wasserspiegel IST-Zustand</div>
        {/* title */}
        <div style={txt(33, true, { left: 518, top: 392.7 - 27.9 })}>
          Hydraulische Größen im IST-Zustand auf der Streichlinienbreite für Q(HNN) aus 3D-HN-Modell
        </div>
        {/* flow direction */}
        <div style={txt(25, true, { left: 174, top: 753 - 12.2 })}>Fließrichtung</div>
        <div style={{ position: 'absolute', left: 175, top: 783.2, width: 136, height: 1.6, background: '#000' }} />
        <div
          style={{
            position: 'absolute', left: 308, top: 778, width: 0, height: 0,
            borderLeft: '27px solid #000', borderTop: '6px solid transparent', borderBottom: '6px solid transparent',
          }}
        />
        {/* DB note */}
        <div style={txt(22.5, true, { right: W - 2394, top: 1093 - 11 })}>
          DB. Streichlinienbreite = Abstand der Verbindungslinien zwischen den Regelungsbauwerken
        </div>
        {/* footnote */}
        <div style={txt(22.5, true, { left: 137, top: 1610 - 11 })}>(1): unter der Streichlinienbreite</div>
        {/* x axis name */}
        <div style={txt(26, true, { left: 1140, top: 1654 - 12.7 })}>Do-km</div>
      </div>
      {/* IST-Zustand legend box */}
      <div
        style={{
          position: 'absolute', left: 485, top: 656, width: 401, height: 113, boxSizing: 'border-box',
          border: '1.5px solid #555', background: '#fff', zIndex: 2,
        }}
      >
        <div style={{ position: 'absolute', left: 536 - 485, top: 710 - 656 - 1, width: 56, height: 1.4, background: '#000' }} />
        <div style={txt(33, false, { left: 614 - 485, top: 710 - 656 - 16.1 })}>IST-Zustand</div>
      </div>
    </div>
  );
}
